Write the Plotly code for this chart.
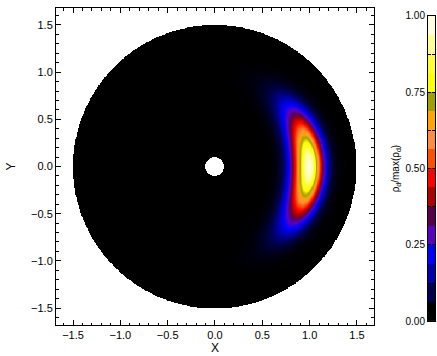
import numpy as np
import plotly.graph_objects as go

# ---- colour table (16 levels, bottom to top) ----
band_colors = ["#000000", "#000050", "#0000b0", "#0000ff",
               "#5a00c0", "#56004e", "#b00000", "#ff0000",
               "#ff5000", "#ff8c40", "#ffa500", "#a0a000",
               "#ffff00", "#ffff30", "#ffff99", "#ffffe0"]
cbar_ticks = [0.0, 0.25, 0.5, 0.75, 1.0]
cbar_minor = [0.125, 0.375, 0.625, 0.875]

# ---- disk / vortex parameters ----
r_outer = 1.5
r_hole = 0.1
r_peak = 1.0
sigma_r_in = 0.12
sigma_r_out = 0.10
phi_peak = 0.0
sigma_phi = 0.39
n_grid = 520

axis_range = [-1.68, 1.68]
major_ticks = [-1.5, -1.0, -0.5, 0.0, 0.5, 1.0, 1.5]

# ---- build field ----
xs = np.linspace(-r_outer, r_outer, n_grid)
ys = np.linspace(-r_outer, r_outer, n_grid)
X, Y = np.meshgrid(xs, ys)
R = np.hypot(X, Y)
PHI = np.arctan2(Y, X) - phi_peak
PHI = (PHI + np.pi) % (2 * np.pi) - np.pi
sig_r = np.where(R < r_peak, sigma_r_in, sigma_r_out)
Z = np.exp(-0.5 * ((R - r_peak) / sig_r) ** 2) * np.exp(-0.5 * (PHI / sigma_phi) ** 2)
Z = Z / Z.max()
Z[(R > r_outer) | (R < r_hole)] = np.nan

n = len(band_colors)
smooth_scale = [[i / (n - 1), c] for i, c in enumerate(band_colors)]
step_scale = []
for i, c in enumerate(band_colors):
    step_scale.append([i / n, c])
    step_scale.append([(i + 1) / n, c])
band_edges = [i / n for i in range(n + 1)]
band_values = [(i + 0.5) / n for i in range(n)]

fig = go.Figure()
fig.add_trace(go.Heatmap(x=xs, y=ys, z=Z, colorscale=smooth_scale, zmin=0, zmax=1,
                         showscale=False, hoverinfo="skip", xaxis="x", yaxis="y"))
fig.add_trace(go.Heatmap(x=[-0.5, 0.5], y=band_edges, z=[[v] for v in band_values],
                         colorscale=step_scale, zmin=0, zmax=1, showscale=False,
                         hoverinfo="skip", xaxis="x2", yaxis="y2"))

font = dict(family="Liberation Sans, Arial, sans-serif", size=11, color="black")
common = dict(range=axis_range, tickvals=major_ticks, tickformat=".1f",
              ticks="inside", ticklen=5, tickcolor="black", mirror="allticks",
              showline=True, linecolor="black", linewidth=1, showgrid=False,
              zeroline=False,
              minor=dict(dtick=0.1, tick0=0, ticks="inside", ticklen=2.5,
                         tickcolor="black", showgrid=False))

fig.update_layout(
    width=437, height=356,
    margin=dict(l=56, r=2, t=8, b=31),
    paper_bgcolor="white", plot_bgcolor="white",
    font=font,
    showlegend=False,
    xaxis=dict(domain=[0, 0.839], anchor="y",
               title=dict(text="X", standoff=2, font=dict(size=12)), **common),
    yaxis=dict(domain=[0, 1], anchor="x",
               title=dict(text="Y", standoff=12, font=dict(size=12)), **common),
    xaxis2=dict(domain=[0.9815, 1.0], anchor="y2", range=[-0.5, 0.5],
                showticklabels=False, ticks="", showline=True, linecolor="black",
                mirror=True, showgrid=False, zeroline=False),
    yaxis2=dict(domain=[0.012, 0.975], anchor="x2", side="left", range=[0, 1],
                tickvals=cbar_ticks, tickformat=".2f", ticks="inside", ticklen=3,
                tickcolor="black", mirror="allticks", showline=True,
                linecolor="black", showgrid=False, zeroline=False,
                tickfont=dict(size=10),
                minor=dict(tickvals=cbar_minor, ticks="inside", ticklen=3,
                           tickcolor="black"),
                title=dict(text="ρ<sub>d</sub>/max(ρ<sub>d</sub>)", standoff=4,
                           font=dict(size=10))),
)

fig.write_html("out.html", config={"displayModeBar": False},
               post_script="document.body.style.margin='0px';"
                           "document.body.style.overflow='hidden';")
